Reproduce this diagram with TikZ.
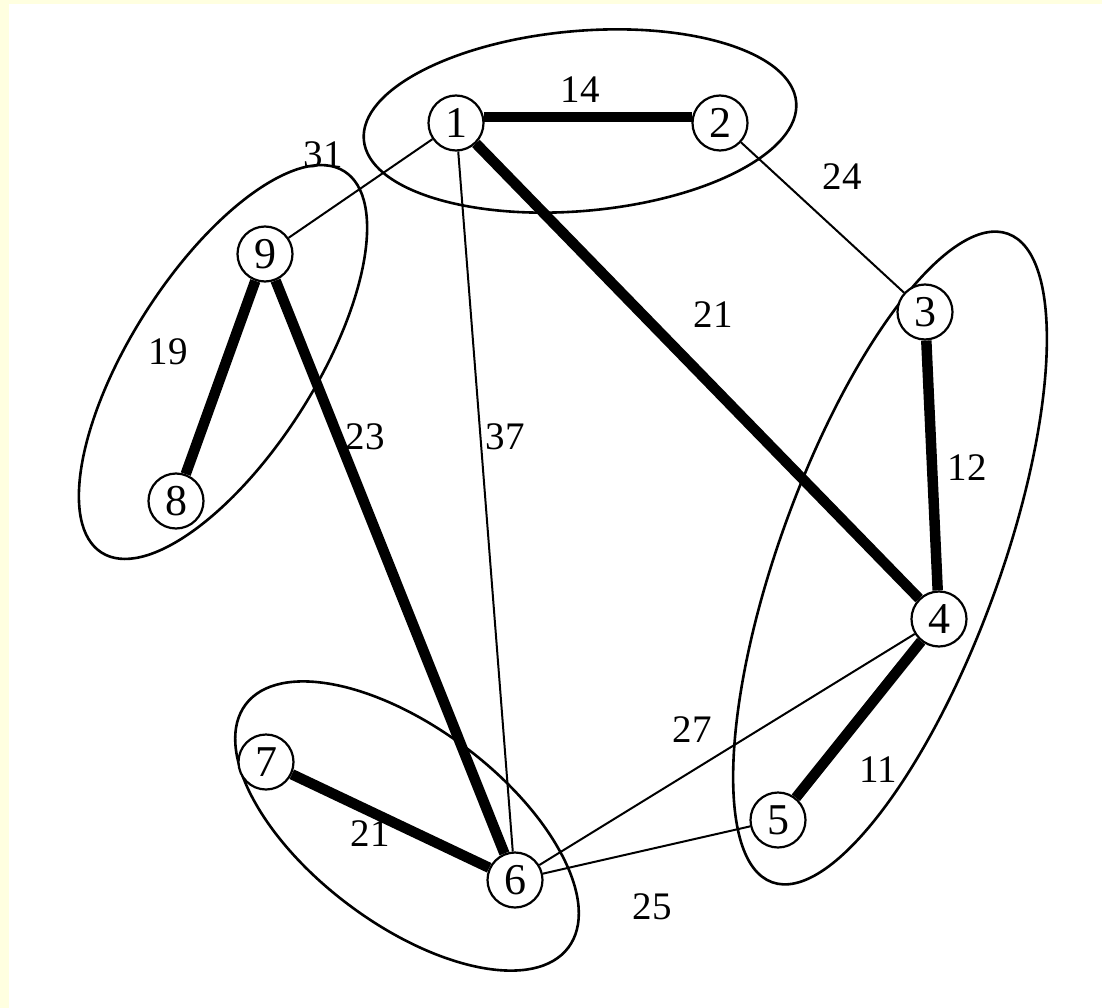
\documentclass[tikz,border=0pt]{standalone}
\usepackage{fontspec}
\setmainfont{Liberation Serif}
\definecolor{bgyellow}{RGB}{255,255,224}
\begin{document}
\begin{tikzpicture}[x=1pt,y=-1pt,
  vtx/.style={circle,draw,line width=2.2pt,minimum size=55pt,inner sep=0pt,fill=white,font=\fontsize{44}{48}\selectfont},
  heavy/.style={line width=10.5pt},
  light/.style={line width=2pt},
  grp/.style={line width=2.6pt},
  wlab/.style={inner sep=0pt,font=\fontsize{39}{43}\selectfont}]
\fill[bgyellow] (0,0) rectangle (1102,1008);
\fill[white] (9,4) rectangle (1102,1008);
\useasboundingbox (0,0) rectangle (1102,1008);
% groups
\draw[grp] (580,121) ellipse[x radius=217, y radius=90, rotate=5];
\draw[grp] (223,362) ellipse[x radius=226, y radius=92, rotate=57.5];
\draw[grp] (890,558) ellipse[x radius=345, y radius=110, rotate=70];
\draw[grp] (407,826) ellipse[x radius=202, y radius=98, rotate=-37];
% vertex coordinates
\coordinate (p1) at (456,123);
\coordinate (p2) at (720,123);
\coordinate (p3) at (925,312);
\coordinate (p4) at (939,619);
\coordinate (p5) at (778,820);
\coordinate (p6) at (515,880);
\coordinate (p7) at (266,762);
\coordinate (p8) at (176,501);
\coordinate (p9) at (265,254);
% vertices
\node[vtx] (n1) at (p1) {1};
\node[vtx] (n2) at (p2) {2};
\node[vtx] (n3) at (p3) {3};
\node[vtx] (n4) at (p4) {4};
\node[vtx] (n5) at (p5) {5};
\node[vtx] (n6) at (p6) {6};
\node[vtx] (n7) at (p7) {7};
\node[vtx] (n8) at (p8) {8};
\node[vtx] (n9) at (p9) {9};
% edges
\draw[heavy] (n1.12) -- (n2.168);
\draw[heavy] (n1) -- (n4);
\draw[light] (n1) -- (n9);
\draw[light] (n1) -- (n6);
\draw[light] (n2) -- (n3);
\draw[heavy] (n3) -- (n4);
\draw[heavy] (n4) -- (n5);
\draw[light] (n4) -- (n6);
\draw[light] (n5) -- (n6);
\draw[heavy] (n9) -- (n8);
\draw[heavy] (n9) -- (n6);
\draw[heavy] (n7) -- (n6);
% weights
\node[wlab] (w12) at (580,90) {14};
\node[wlab] (w14) at (713,315) {21};
\node[wlab] (w19) at (323,155) {31};
\node[wlab] (w16) at (505,437) {37};
\node[wlab] (w23) at (842,177) {24};
\node[wlab] (w34) at (967,468) {12};
\node[wlab] (w45) at (878,770) {11};
\node[wlab] (w46) at (692,730) {27};
\node[wlab] (w56) at (652,907) {25};
\node[wlab] (w98) at (168,352) {19};
\node[wlab] (w96) at (365,437) {23};
\node[wlab] (w76) at (370,834) {21};
\end{tikzpicture}
\end{document}
